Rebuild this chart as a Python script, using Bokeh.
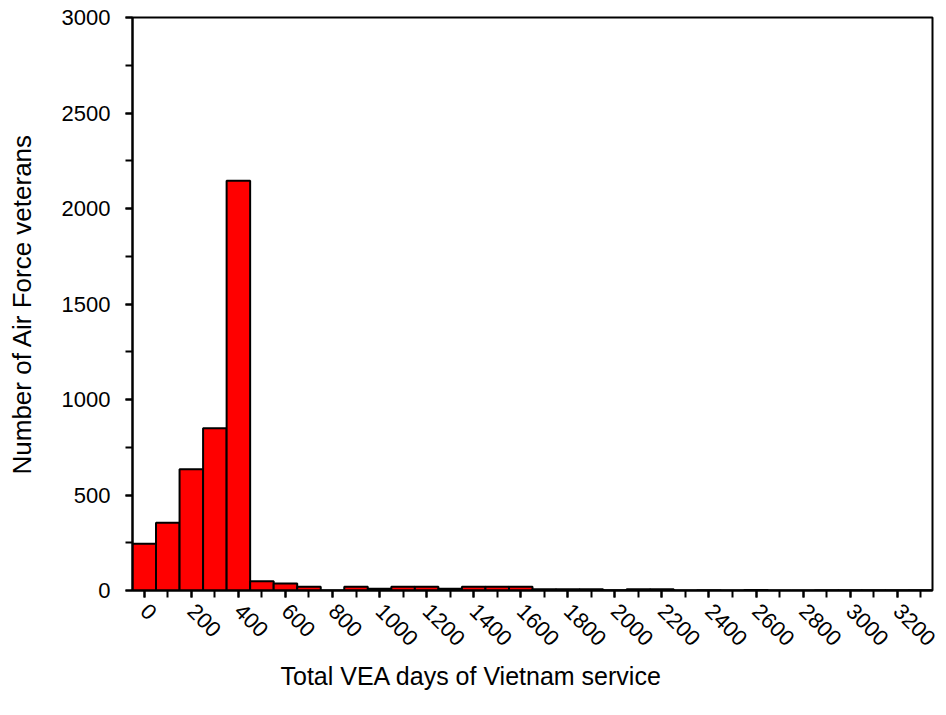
import math
from bokeh.plotting import figure
from bokeh.models import FixedTicker, Range1d, Title
from bokeh.embed import file_html
from bokeh.resources import INLINE

# bin centres (days) and counts
bin_centers = [0, 100, 200, 300, 400, 500, 600, 700, 800, 900, 1000, 1100,
               1200, 1300, 1400, 1500, 1600, 1700, 1800, 1900, 2000, 2100,
               2200, 2300, 2400, 2500, 2600, 2700, 2800, 2900, 3000, 3100,
               3200, 3300]
counts = [245, 355, 635, 850, 2145, 48, 37, 20, 0, 20, 9, 20,
          20, 9, 20, 20, 20, 6, 6, 6, 1, 6,
          6, 0, 1, 0, 2, 0, 0, 1, 1, 1,
          1, 1]
bin_width = 100

x_tick_labels = [0, 200, 400, 600, 800, 1000, 1200, 1400, 1600, 1800, 2000,
                 2200, 2400, 2600, 2800, 3000, 3200]
y_ticks = [0, 500, 1000, 1500, 2000, 2500, 3000]
y_minor = [0, 250, 500, 750, 1000, 1250, 1500, 1750, 2000, 2250, 2500, 2750, 3000]

FONT = "Liberation Sans"

p = figure(width=940, height=705, output_backend="svg", toolbar_location=None,
           x_range=Range1d(-50, 3350), y_range=Range1d(0, 3000),
           min_border_left=132, min_border_right=8, min_border_top=17,
           min_border_bottom=115)
p.grid.visible = False
p.outline_line_color = "black"
p.outline_line_width = 2
p.background_fill_color = "white"
p.border_fill_color = "white"

p.vbar(x=bin_centers, width=bin_width, top=counts, bottom=0,
       fill_color="#FF0000", line_color="black", line_width=2)

for ax in (p.xaxis[0], p.yaxis[0]):
    ax.axis_line_width = 2
    ax.major_tick_line_width = 2
    ax.minor_tick_line_width = 2
    ax.major_tick_in = 0
    ax.minor_tick_in = 0
    ax.major_tick_out = 7
    ax.minor_tick_out = 7
    ax.major_label_text_font = FONT
    ax.major_label_text_font_size = "22px"
    ax.major_label_text_color = "black"
    ax.axis_label_text_font = FONT
    ax.axis_label_text_font_size = "26px"
    ax.axis_label_text_font_style = "normal"
    ax.axis_label_text_color = "black"

p.xaxis[0].ticker = FixedTicker(ticks=x_tick_labels, minor_ticks=bin_centers)
p.xaxis[0].major_label_orientation = -math.pi / 4
p.xaxis[0].major_label_standoff = 10

p.yaxis[0].ticker = FixedTicker(ticks=y_ticks, minor_ticks=y_minor)
p.yaxis[0].major_label_standoff = 15
p.yaxis[0].axis_label = "Number of Air Force veterans"
p.yaxis[0].axis_label_standoff = 22

xt = Title(text="Total VEA days of Vietnam service", align="left", offset=148,
           text_font=FONT, text_font_size="25px", text_font_style="normal",
           text_color="black", standoff=8)
p.add_layout(xt, "below")

open("out.html", "w").write(file_html(p, INLINE))
